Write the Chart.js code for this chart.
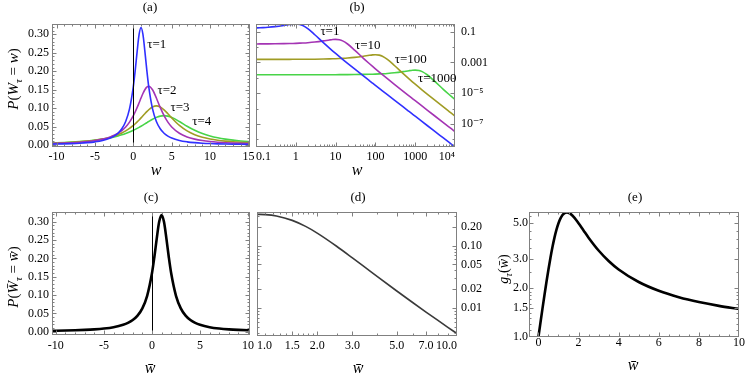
<!DOCTYPE html>
<html>
<head>
<meta charset="utf-8">
<script src="https://cdn.jsdelivr.net/npm/chart.js@4.4.1/dist/chart.umd.min.js"></script>
<style>
  html, body { margin: 0; padding: 0; background: #fff; }
  #wrap { position: relative; width: 746px; height: 380px; }
  #wrap canvas { position: absolute; left: 0; top: 0; }
</style>
</head>
<body>
<div id="wrap">
  <canvas id="pa" width="746" height="380"></canvas>
  <canvas id="pb" width="746" height="380"></canvas>
  <canvas id="pc" width="746" height="380"></canvas>
  <canvas id="pd" width="746" height="380"></canvas>
  <canvas id="pe" width="746" height="380"></canvas>
</div>
<script>
// ---- panel (a): P(W_tau = w), linear axes
const aX = [-11, -10, -9, -8, -7, -6, -5, -4, -3, -2.5, -2, -1.5, -1, -0.5, 0, 0.25, 0.5, 0.75, 1, 1.25, 1.5, 1.75, 2, 2.5, 3, 3.5, 4, 4.5, 5, 6, 7, 8, 9, 10, 11, 12, 13, 14, 15, 16];
const aTau1 = [0.002195, 0.002609, 0.003152, 0.003882, 0.004897, 0.006366, 0.008603, 0.012243, 0.018724, 0.024024, 0.031831, 0.043905, 0.063662, 0.097942, 0.159155, 0.203718, 0.254648, 0.299586, 0.31831, 0.299586, 0.254648, 0.203718, 0.159155, 0.097942, 0.063662, 0.043905, 0.031831, 0.024024, 0.018724, 0.012243, 0.008603, 0.006366, 0.004897, 0.003882, 0.003152, 0.002609, 0.002195, 0.001872, 0.001616, 0.001408];
const aTau2 = [0.00368, 0.004301, 0.005093, 0.006121, 0.00749, 0.009362, 0.012012, 0.015916, 0.021952, 0.026252, 0.031831, 0.039177, 0.048971, 0.062109, 0.079577, 0.090141, 0.101859, 0.114449, 0.127324, 0.139533, 0.149793, 0.156706, 0.159155, 0.149793, 0.127324, 0.101859, 0.079577, 0.062109, 0.048971, 0.031831, 0.021952, 0.015916, 0.012012, 0.009362, 0.00749, 0.006121, 0.005093, 0.004301, 0.00368, 0.003183];
const aTau3 = [0.004658, 0.005365, 0.006241, 0.007346, 0.008761, 0.01061, 0.013081, 0.016464, 0.021221, 0.024329, 0.028086, 0.032647, 0.038197, 0.044938, 0.053052, 0.057656, 0.062618, 0.067906, 0.073456, 0.079165, 0.084883, 0.090408, 0.095493, 0.103236, 0.106103, 0.103236, 0.095493, 0.084883, 0.073456, 0.053052, 0.038197, 0.028086, 0.021221, 0.016464, 0.013081, 0.01061, 0.008761, 0.007346, 0.006241, 0.005365];
const aTau4 = [0.005283, 0.006006, 0.006882, 0.007958, 0.009294, 0.010976, 0.013126, 0.015916, 0.019588, 0.021858, 0.024485, 0.02753, 0.031055, 0.035124, 0.039789, 0.042353, 0.045071, 0.047934, 0.05093, 0.054037, 0.057224, 0.060451, 0.063662, 0.069767, 0.074896, 0.078353, 0.079577, 0.078353, 0.074896, 0.063662, 0.05093, 0.039789, 0.031055, 0.024485, 0.019588, 0.015916, 0.013126, 0.010976, 0.009294, 0.007958];
const aXTicks = [-10, -5, 0, 5, 10, 15];
const aXLabels = ['-10', '-5', '0', '5', '10', '15'];
const aYTicks = [0, 0.05, 0.1, 0.15, 0.2, 0.25, 0.3];
const aYLabels = ['0.00', '0.05', '0.10', '0.15', '0.20', '0.25', '0.30'];
const aNames = ['τ=1', 'τ=2', 'τ=3', 'τ=4'];
const aNameX = [3.05, 4.39, 6.09, 8.91];
const aNameY = [0.271, 0.147, 0.101, 0.063];

// ---- panel (b): same distributions, log-log
const bX = [0.1, 0.125, 0.15, 0.2, 0.3, 0.5, 0.7, 0.85, 1, 1.25, 1.5, 2, 3, 5, 7, 8.5, 10, 12.5, 15, 20, 30, 50, 70, 85, 100, 125, 150, 200, 300, 500, 700, 850, 1000, 1250, 1500, 2000, 3000, 5000, 7000, 8500, 10000];
const bTau1 = [0.175862, 0.180281, 0.184795, 0.194091, 0.213631, 0.254648, 0.292028, 0.311306, 0.31831, 0.299586, 0.254648, 0.159155, 0.063662, 0.018724, 0.008603, 0.00556, 0.003882, 0.0023888, 0.001616, 8.793e-4, 3.78e-4, 1.3252e-4, 6.684e-5, 4.5106e-5, 3.2474e-5, 2.07e-5, 1.4337e-5, 8.0377e-6, 3.5604e-6, 1.2783e-6, 6.5147e-7, 4.4161e-7, 3.1895e-7, 2.0404e-7, 1.4166e-7, 7.9657e-8, 3.5391e-8, 1.2738e-8, 6.498e-9, 4.4067e-9, 3.1837e-9];
const bTau10 = [0.0160755, 0.0161156, 0.0161561, 0.016237, 0.0164001, 0.0167311, 0.0170685, 0.0173256, 0.0175862, 0.0180281, 0.0184795, 0.0194091, 0.0213631, 0.0254648, 0.0292028, 0.0311306, 0.031831, 0.0299586, 0.0254648, 0.0159155, 0.0063662, 0.0018724, 8.603e-4, 5.56e-4, 3.882e-4, 2.3888e-4, 1.616e-4, 8.793e-5, 3.78e-5, 1.3252e-5, 6.684e-6, 4.5106e-6, 3.2474e-6, 2.07e-6, 1.4337e-6, 8.0377e-7, 3.5604e-7, 1.2783e-7, 6.5147e-8, 4.4161e-8, 3.1895e-8];
const bTau100 = [0.00159314, 0.00159354, 0.00159394, 0.00159474, 0.00159634, 0.00159953, 0.00160273, 0.00160514, 0.00160755, 0.00161156, 0.00161561, 0.0016237, 0.00164001, 0.00167311, 0.00170685, 0.00173256, 0.00175862, 0.00180281, 0.00184795, 0.00194091, 0.00213631, 0.00254648, 0.00292028, 0.00311306, 0.0031831, 0.00299586, 0.00254648, 0.00159155, 6.3662e-4, 1.8724e-4, 8.603e-5, 5.56e-5, 3.882e-5, 2.3888e-5, 1.616e-5, 8.793e-6, 3.78e-6, 1.3252e-6, 6.684e-7, 4.5106e-7, 3.2474e-7];
const bTau1000 = [1.59171e-4, 1.59175e-4, 1.59179e-4, 1.59187e-4, 1.59203e-4, 1.59235e-4, 1.59267e-4, 1.5929e-4, 1.59314e-4, 1.59354e-4, 1.59394e-4, 1.59474e-4, 1.59634e-4, 1.59953e-4, 1.60273e-4, 1.60514e-4, 1.60755e-4, 1.61156e-4, 1.61561e-4, 1.6237e-4, 1.64001e-4, 1.67311e-4, 1.70685e-4, 1.73256e-4, 1.75862e-4, 1.80281e-4, 1.84795e-4, 1.94091e-4, 2.13631e-4, 2.54648e-4, 2.92028e-4, 3.11306e-4, 3.1831e-4, 2.99586e-4, 2.54648e-4, 1.59155e-4, 6.3662e-5, 1.8724e-5, 8.603e-6, 5.56e-6, 3.882e-6];
const bXTicks = [0.1, 1, 10, 100, 1000, 10000];
const bXLabels = ['0.1', '1', '10', '100', '1000', '10⁴'];
const bYTicks = [0.1, 0.001, 1e-5, 1e-7];
const bYLabels = ['0.1', '0.001', '10⁻⁵', '10⁻⁷'];
const bNames = ['τ=1', 'τ=10', 'τ=100', 'τ=1000'];
const bNameX = [7.2, 64, 771, 3590];
const bNameY = [0.1, 0.0126, 0.00166, 8.8e-5];

// ---- panel (c): rescaled distribution
const cX = aX;
const cY = aTau1;
const cXTicks = [-10, -5, 0, 5, 10];
const cXLabels = ['-10', '-5', '0', '5', '10'];

// ---- panel (d): right tail, log-log
const dX = [1, 1.1, 1.25, 1.5, 1.75, 2, 2.5, 3, 3.5, 4, 5, 6, 7, 8, 9, 10];
const dY = [0.31831, 0.315158, 0.299586, 0.254648, 0.203718, 0.159155, 0.097942, 0.063662, 0.043905, 0.031831, 0.018724, 0.012243, 0.008603, 0.006366, 0.004897, 0.003882];
const dXTicks = [1, 1.5, 2, 3, 5, 7, 10];
const dXLabels = ['1.0', '1.5', '2.0', '3.0', '5.0', '7.0', '10.0'];
const dYTicks = [0.01, 0.02, 0.05, 0.1, 0.2];
const dYLabels = ['0.01', '0.02', '0.05', '0.10', '0.20'];

// ---- panel (e): g_tau(w)
const eX = [0, 0.1, 0.2, 0.3, 0.4, 0.5, 0.6, 0.7, 0.8, 0.9, 1, 1.1, 1.2, 1.3, 1.414, 1.5, 1.6, 1.8, 2, 2.25, 2.5, 3, 3.5, 4, 5, 6, 7, 8, 9, 10];
const eY = [1, 1.221, 1.4878, 1.8054, 2.1765, 2.6, 3.069, 3.5688, 4.0769, 4.5644, 5, 5.3564, 5.6154, 5.7706, 5.8284, 5.8, 5.7059, 5.3902, 5, 4.5122, 4.0769, 3.4, 2.931, 2.6, 2.1765, 1.9231, 1.7568, 1.64, 1.5538, 1.4878];
const eXTicks = [0, 2, 4, 6, 8, 10];
const eXLabels = ['0', '2', '4', '6', '8', '10'];
const eYTicks = [1, 1.5, 2, 3, 5];
const eYLabels = ['1.0', '1.5', '2.0', '3.0', '5.0'];

const SERIF = "'Liberation Serif', 'DejaVu Serif', serif";
const W = 746, H = 380;
Chart.defaults.font.family = SERIF;
Chart.defaults.color = '#000';

function range(a, b, step) {
  const out = [];
  for (let v = a; v <= b + step / 1000; v += step) out.push(+v.toFixed(6));
  return out;
}
function logMinors(fromExp, toExp) {
  const out = [];
  for (let e = fromExp; e < toExp; e++) for (let m = 2; m <= 9; m++) out.push(m * Math.pow(10, e));
  return out;
}

// text with italic parts and subscripts, centred on (x, y)
function richText(ctx, parts, x, y, size, rotate) {
  ctx.save();
  ctx.translate(x, y);
  if (rotate) ctx.rotate(-Math.PI / 2);
  ctx.textAlign = 'left';
  ctx.textBaseline = 'alphabetic';
  ctx.fillStyle = '#000';
  const fonts = parts.map(([, s]) => (s.includes('i') ? 'italic ' : '') + (s.includes('s') ? size * 0.72 : size) + 'px ' + SERIF);
  let total = 0;
  const widths = parts.map(([t], k) => { ctx.font = fonts[k]; const w = ctx.measureText(t).width; total += w; return w; });
  let cx = -total / 2;
  parts.forEach(([t, s], k) => {
    ctx.font = fonts[k];
    ctx.fillText(t, cx, size * 0.33 + (s.includes('s') ? size * 0.28 : 0));
    cx += widths[k];
  });
  ctx.restore();
}

const deco = {
  id: 'deco',
  afterDatasetsDraw(chart, args, o) {
    const { ctx, chartArea: a, scales: { x, y } } = chart;
    ctx.save();
    if (o.vline !== undefined) {
      const px = Math.round(x.getPixelForValue(o.vline)) + 0.5;
      ctx.strokeStyle = '#000';
      ctx.lineWidth = 1;
      ctx.beginPath(); ctx.moveTo(px, a.top); ctx.lineTo(px, a.bottom); ctx.stroke();
    }
    // frame and inward ticks
    const L = Math.round(a.left) + 0.5, R = Math.round(a.right) - 0.5;
    const T = Math.round(a.top) + 0.5, B = Math.round(a.bottom) - 0.5;
    ctx.strokeStyle = '#808080';
    ctx.lineWidth = 1;
    ctx.strokeRect(L, T, R - L, B - T);
    ctx.beginPath();
    const xt = (vals, len) => vals.forEach(v => {
      const p = x.getPixelForValue(v);
      if (p < a.left + 1 || p > a.right - 1) return;
      const q = Math.round(p) + 0.5;
      ctx.moveTo(q, B); ctx.lineTo(q, B - len);
      ctx.moveTo(q, T); ctx.lineTo(q, T + len);
    });
    const yt = (vals, len) => vals.forEach(v => {
      const p = y.getPixelForValue(v);
      if (p < a.top + 1 || p > a.bottom - 1) return;
      const q = Math.round(p) + 0.5;
      ctx.moveTo(L, q); ctx.lineTo(L + len, q);
      ctx.moveTo(R, q); ctx.lineTo(R - len, q);
    });
    xt(o.xMajor, 4); xt(o.xMinor, 2);
    yt(o.yMajor, 4); yt(o.yMinor, 2);
    ctx.stroke();
    // curve names
    if (o.names) {
      ctx.fillStyle = '#000';
      ctx.font = '13px ' + SERIF;
      ctx.textAlign = 'center';
      ctx.textBaseline = 'middle';
      o.names.forEach((t, i) => ctx.fillText(t, x.getPixelForValue(o.nameX[i]), y.getPixelForValue(o.nameY[i])));
    }
    // panel tag and axis titles
    ctx.fillStyle = '#000';
    ctx.font = '13px ' + SERIF;
    ctx.textAlign = 'center';
    ctx.textBaseline = 'middle';
    ctx.fillText(o.panel, o.panelX, o.panelY);
    richText(ctx, o.xTitle, o.xTitleX, o.xTitleY, 16, false);
    if (o.yTitle) richText(ctx, o.yTitle, o.yTitleX, o.yTitleY, o.yTitleSize || 15, true);
    ctx.restore();
  }
};

function axis(type, min, max, pos, ticks, labels, size, pad, align) {
  return {
    type, min, max, position: pos,
    afterBuildTicks: s => { s.ticks = ticks.map(v => ({ value: v })); },
    afterFit: s => { if (pos === 'bottom') s.height = size; else s.width = size; },
    grid: { display: false, drawTicks: false },
    border: { display: false },
    ticks: {
      autoSkip: false, maxRotation: 0, minRotation: 0, padding: pad, align: align || 'center',
      color: '#000', font: { family: SERIF, size: 12 },
      callback: (v, i) => labels[i]
    }
  };
}

function series(xs, ys, color, width) {
  return {
    data: xs.map((v, i) => ({ x: v, y: ys[i] })),
    borderColor: color, borderWidth: width, pointRadius: 0, showLine: true,
    fill: false, cubicInterpolationMode: 'monotone', clip: 0
  };
}

function panel(id, box, xAx, yAx, datasets, decoOpts) {
  const yRight = yAx.position === 'right';
  new Chart(document.getElementById(id), {
    type: 'scatter',
    data: { datasets },
    options: {
      responsive: false, animation: false, devicePixelRatio: 1, events: [],
      layout: {
        padding: {
          left: box.l - (yRight ? 0 : box.yW),
          right: W - box.r - (yRight ? box.yW : 0),
          top: box.t,
          bottom: H - box.b - box.xH
        }
      },
      scales: { x: xAx, y: yAx },
      plugins: { legend: { display: false }, tooltip: { enabled: false }, deco: decoOpts }
    },
    plugins: [deco]
  });
}

const BLUE = '#3030ff', PURPLE = '#a434b4', OLIVE = '#a09c24', GREEN = '#48d448';
const titleP = [['P', 'i'], ['(', 'r'], ['W', 'i'], ['τ', 'si'], [' = ', 'r'], ['w', 'i'], [')', 'r']];
const titlePbar = [['P', 'i'], ['(', 'r'], ['W\u0304', 'i'], ['τ', 'si'], [' = ', 'r'], ['w\u0304', 'i'], [')', 'r']];
const titleG = [['g', 'i'], ['τ', 'si'], ['(', 'r'], ['w\u0304', 'i'], [')', 'r']];

// (a)
panel('pa', { l: 52, t: 24, r: 250, b: 147, xH: 24, yW: 45 },
  axis('linear', -10.6, 15.2, 'bottom', aXTicks, aXLabels, 24, 2.8),
  axis('linear', -0.0054, 0.328, 'left', aYTicks, aYLabels, 45, 3),
  [series(aX, aTau1, BLUE, 1.6), series(aX, aTau2, PURPLE, 1.6), series(aX, aTau3, OLIVE, 1.6), series(aX, aTau4, GREEN, 1.6)],
  { panel: '(a)', panelX: 150, panelY: 8, xTitle: [['w', 'i']], xTitleX: 156, xTitleY: 170,
    yTitle: titleP, yTitleX: 13, yTitleY: 79, vline: 0,
    names: aNames, nameX: aNameX, nameY: aNameY,
    xMajor: aXTicks, xMinor: range(-10, 15, 1), yMajor: aYTicks, yMinor: range(0, 0.32, 0.01) });

// (b)
panel('pb', { l: 256, t: 24, r: 455, b: 147, xH: 24, yW: 50 },
  axis('logarithmic', 0.1, 10000, 'bottom', bXTicks, bXLabels, 24, 2.8, 'inner'),
  axis('logarithmic', 3.18e-9, 0.3183, 'right', bYTicks, bYLabels, 50, 6),
  [series(bX, bTau1, BLUE, 1.6), series(bX, bTau10, PURPLE, 1.6), series(bX, bTau100, OLIVE, 1.6), series(bX, bTau1000, GREEN, 1.6)],
  { panel: '(b)', panelX: 357, panelY: 8, xTitle: [['w', 'i']], xTitleX: 357, xTitleY: 170,
    names: bNames, nameX: bNameX, nameY: bNameY,
    xMajor: bXTicks, xMinor: logMinors(-1, 4), yMajor: bYTicks, yMinor: [1e-2, 1e-4, 1e-6, 1e-8] });

// (c)
panel('pc', { l: 52, t: 212, r: 250, b: 335, xH: 30, yW: 45 },
  axis('linear', -10.4, 10.2, 'bottom', cXTicks, cXLabels, 30, 3.8),
  axis('linear', -0.009, 0.3264, 'left', aYTicks, aYLabels, 45, 3),
  [series(cX, cY, '#000', 2.6)],
  { panel: '(c)', panelX: 151, panelY: 198, xTitle: [['w\u0304', 'i']], xTitleX: 150, xTitleY: 368,
    yTitle: titlePbar, yTitleX: 13, yTitleY: 277, vline: 0,
    xMajor: cXTicks, xMinor: range(-10, 10, 1), yMajor: aYTicks, yMinor: range(0, 0.32, 0.01) });

// (d)
panel('pd', { l: 257, t: 212, r: 457, b: 336, xH: 30, yW: 50 },
  axis('logarithmic', 1, 10, 'bottom', dXTicks, dXLabels, 30, 2.8, 'inner'),
  axis('logarithmic', 0.00355, 0.347, 'right', dYTicks, dYLabels, 50, 4),
  [series(dX, dY, '#3a3a3a', 1.6)],
  { panel: '(d)', panelX: 358, panelY: 198, xTitle: [['w\u0304', 'i']], xTitleX: 358, xTitleY: 368,
    xMajor: dXTicks, xMinor: [1.1, 1.2, 1.3, 1.4, 1.6, 1.7, 1.8, 1.9, 2.5, 4, 6, 8, 9],
    yMajor: dYTicks, yMinor: [0.004, 0.005, 0.006, 0.007, 0.008, 0.009, 0.03, 0.04, 0.06, 0.07, 0.08, 0.09, 0.3] });

// (e)
panel('pe', { l: 529, t: 212, r: 739, b: 337, xH: 28, yW: 45 },
  axis('linear', -0.47, 10, 'bottom', eXTicks, eXLabels, 28, -1.5),
  axis('logarithmic', 1, 5.86, 'left', eYTicks, eYLabels, 45, 1),
  [series(eX, eY, '#000', 2.6)],
  { panel: '(e)', panelX: 635, panelY: 198, xTitle: [['w\u0304', 'i']], xTitleX: 633, xTitleY: 365,
    yTitle: titleG, yTitleX: 503, yTitleY: 269, yTitleSize: 14,
    xMajor: eXTicks, xMinor: range(0, 10, 0.5), yMajor: eYTicks,
    yMinor: [1.1, 1.2, 1.3, 1.4, 1.6, 1.7, 1.8, 1.9, 2.5, 3.5, 4, 4.5, 5.5] });
</script>
</body>
</html>
